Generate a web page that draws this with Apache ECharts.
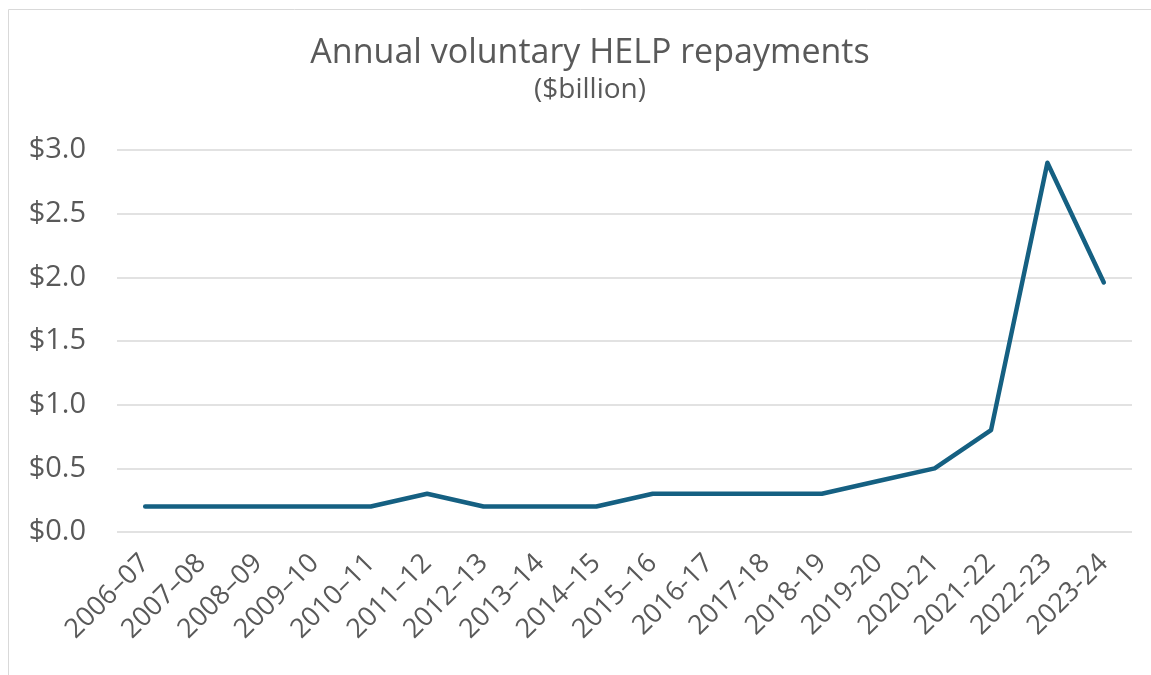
<!DOCTYPE html>
<html>
<head>
<meta charset="utf-8">
<script src="https://cdn.jsdelivr.net/npm/echarts@6/dist/echarts.min.js"></script>
<style>
  html, body { margin: 0; padding: 0; background: #fff; }
  #chart { width: 1151px; height: 675px; }
</style>
</head>
<body>
<div id="chart"></div>
<script>
// financial years (first ten use an en dash, as in the source)
var years = ['2006–07', '2007–08', '2008–09', '2009–10', '2010–11', '2011–12', '2012–13', '2013–14', '2014–15', '2015–16',
  '2016-17', '2017-18', '2018-19', '2019-20', '2020-21', '2021-22', '2022-23', '2023-24']
// voluntary repayments, $billion
var repayments = [0.2, 0.2, 0.2, 0.2, 0.2, 0.3, 0.2, 0.2, 0.2, 0.3, 0.3, 0.3, 0.3, 0.4, 0.5, 0.8, 2.9, 1.96]

var font = '"Open Sans", "Liberation Sans", sans-serif'
var textColor = '#595959'

var chart = echarts.init(document.getElementById('chart'))
chart.setOption({
  animation: false,
  textStyle: { fontFamily: font },
  title: {
    text: 'Annual voluntary HELP repayments',
    subtext: '($billion)',
    left: 585,
    textAlign: 'center',
    top: 31,
    itemGap: 6,
    textStyle: { fontFamily: font, fontSize: 34, fontWeight: 'normal', color: textColor },
    subtextStyle: { fontFamily: font, fontSize: 28, color: textColor }
  },
  // chart-area border (left and top edges show)
  graphic: [{
    type: 'rect',
    shape: { x: 8.5, y: 9.5, width: 1200, height: 700 },
    style: { fill: 'none', stroke: '#d9d9d9', lineWidth: 1 },
    silent: true
  }],
  grid: {
    left: 117,
    right: 19,
    top: 150,
    bottom: 143
  },
  xAxis: {
    type: 'category',
    data: years,
    boundaryGap: true,
    axisLine: { show: false },
    axisTick: { show: false },
    axisLabel: {
      rotate: 45,
      margin: 27,
      interval: 0,
      fontSize: 27,
      color: textColor
    }
  },
  yAxis: {
    type: 'value',
    min: 0,
    max: 3,
    interval: 0.5,
    axisLine: { show: false },
    axisTick: { show: false },
    splitLine: { lineStyle: { color: '#d9d9d9', width: 1.5 } },
    axisLabel: {
      margin: 31,
      fontSize: 29,
      color: textColor,
      formatter: function (v) { return '$' + v.toFixed(1) }
    }
  },
  series: [{
    type: 'line',
    data: repayments,
    showSymbol: false,
    lineStyle: { color: '#156082', width: 4.5, cap: 'round', join: 'round' },
    itemStyle: { color: '#156082' }
  }]
})
</script>
</body>
</html>
